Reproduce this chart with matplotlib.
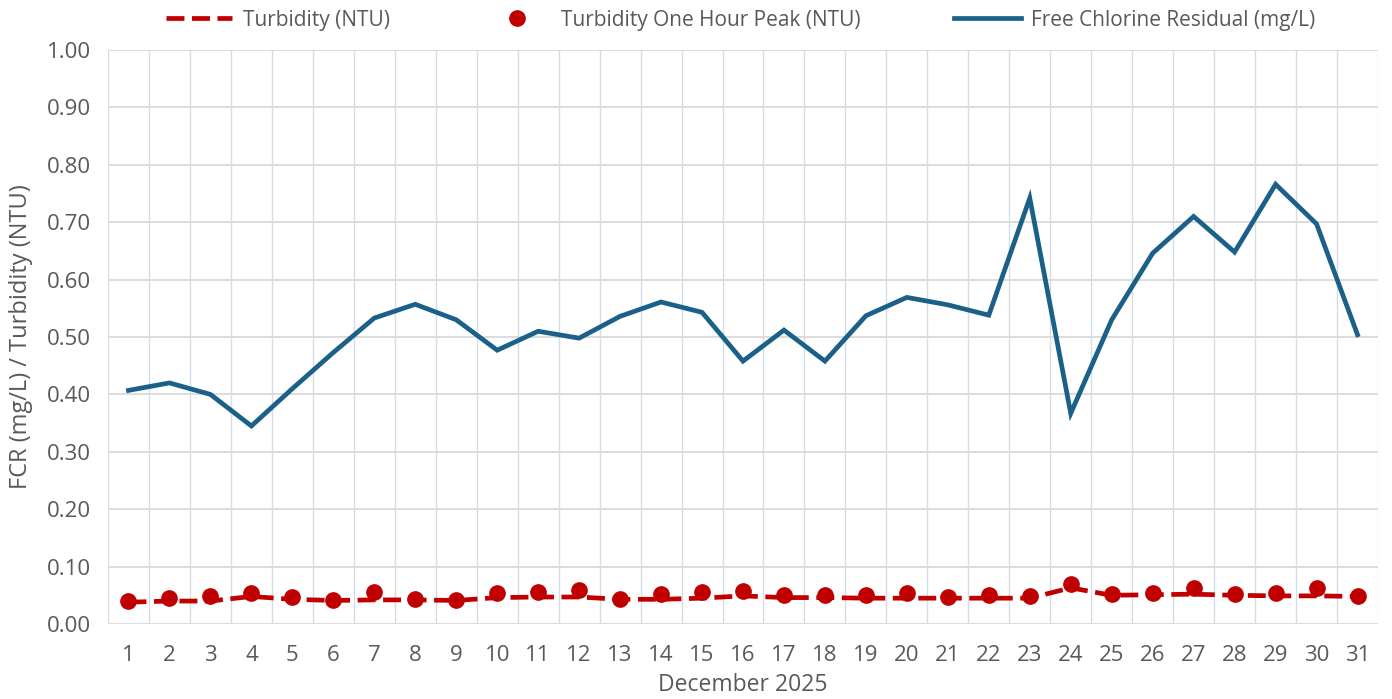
import numpy as np
import matplotlib
matplotlib.use("Agg")
import matplotlib.pyplot as plt
from matplotlib.ticker import FixedLocator

plt.rcParams['font.family'] = ['Open Sans', 'DejaVu Sans']

# Data
days = list(range(1, 32))
turbidity = [0.038, 0.040, 0.040, 0.048, 0.043, 0.041, 0.042, 0.042, 0.041, 0.046,
             0.047, 0.047, 0.043, 0.043, 0.045, 0.049, 0.046, 0.046, 0.045, 0.045,
             0.045, 0.045, 0.045, 0.063, 0.050, 0.051, 0.052, 0.050, 0.049, 0.049,
             0.048]
turbidity_peak = [0.040, 0.045, 0.049, 0.054, 0.047, 0.042, 0.056, 0.044, 0.042, 0.054,
                  0.055, 0.059, 0.044, 0.053, 0.056, 0.058, 0.051, 0.051, 0.051, 0.054,
                  0.047, 0.051, 0.049, 0.070, 0.052, 0.054, 0.063, 0.052, 0.054, 0.063,
                  0.049]
fcr = [0.407, 0.420, 0.400, 0.345, 0.410, 0.473, 0.533, 0.557, 0.530, 0.477,
       0.510, 0.498, 0.536, 0.561, 0.543, 0.458, 0.512, 0.458, 0.537, 0.569,
       0.556, 0.538, 0.742, 0.367, 0.530, 0.646, 0.710, 0.648, 0.766, 0.697,
       0.504]

red = '#C00000'
blue = '#1B6088'
grey_text = '#595959'

fig = plt.figure(figsize=(13.92, 6.99), dpi=100)
ax = fig.add_axes([108 / 1392, 75 / 699, 1270 / 1392, 574 / 699])

ax.plot(days, fcr, color=blue, lw=3.4, solid_joinstyle='miter',
        label='Free Chlorine Residual (mg/L)', zorder=3)
ax.plot(days, turbidity, color=red, lw=3.4, dashes=(3.8, 1.6),
        label='Turbidity (NTU)', zorder=3)
ax.plot(days, turbidity_peak, 'o', color=red, ms=11,
        label='Turbidity One Hour Peak (NTU)', zorder=4)

ax.set_xlim(0.5, 31.5)
ax.set_ylim(0, 1.0)
ax.set_xticks(days)
ax.set_yticks(np.arange(0, 1.01, 0.1))
ax.set_yticklabels([f'{v:.2f}' for v in np.arange(0, 1.01, 0.1)])
ax.xaxis.set_minor_locator(FixedLocator(np.arange(0.5, 32, 1)))

ax.grid(axis='y', which='major', color='#D9D9D9', lw=1.3)
ax.grid(axis='x', which='minor', color='#D3DDEA', lw=1.0)
ax.set_axisbelow(True)
for s in ax.spines.values():
    s.set_visible(False)
ax.tick_params(which='both', length=0, labelsize=16, labelcolor=grey_text)
ax.tick_params(axis='x', pad=15)
ax.tick_params(axis='y', pad=12)

ax.set_xlabel('December 2025', fontsize=16.5, color=grey_text, labelpad=5)
ax.set_ylabel('FCR (mg/L) / Turbidity (NTU)', fontsize=17, color=grey_text, labelpad=10)

h, l = ax.get_legend_handles_labels()
order = [1, 2, 0]
leg = fig.legend([h[i] for i in order], [l[i] for i in order], loc='upper center',
                 bbox_to_anchor=(0.532, 1.013), ncol=3, frameon=False, fontsize=15,
                 handlelength=3.2, columnspacing=4.5, handletextpad=0.5)
for t in leg.get_texts():
    t.set_color(grey_text)

fig.savefig('out.png', dpi=100)
